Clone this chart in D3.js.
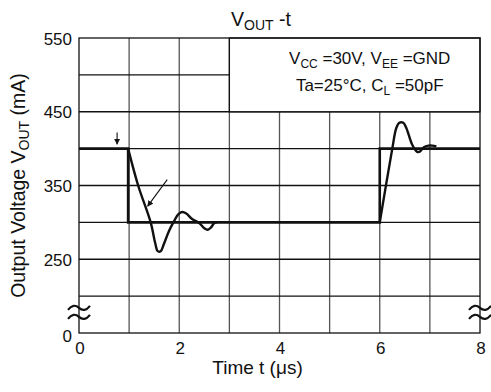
<!DOCTYPE html>
<html>
<head>
<meta charset="utf-8">
<script src="https://cdn.jsdelivr.net/npm/d3@7"></script>
<style>
  body { margin: 0; background: #fff; }
  text { font-family: "Liberation Sans", Arial, sans-serif; fill: #111; }
</style>
</head>
<body>
<div id="canvas"></div>
<script>
const canvas = d3.select("#canvas")

// input step (time in us, value in mA scale)
const stepT = [0, 0.98, 0.98, 6, 6, 8]
const stepV = [400, 400, 300, 300, 400, 400]

// output response, falling edge
const fallT = [0.98, 1.18, 1.43, 1.52, 1.57, 1.63, 1.69, 1.8, 1.9, 1.98, 2.06, 2.14, 2.25, 2.4, 2.5, 2.57, 2.63, 2.7, 2.75]
const fallV = [400, 350, 300, 272, 261, 261, 270, 289, 302, 311, 314, 312, 305, 299, 292, 290, 293, 299, 300]

// output response, rising edge
const riseT = [6.0, 6.25, 6.33, 6.39, 6.47, 6.53, 6.65, 6.74, 6.8, 6.88, 6.97, 7.05, 7.13]
const riseV = [300, 400, 428, 435, 435, 428, 405, 396, 396, 402, 404, 404, 403]

const xTicks = [0, 2, 4, 6, 8]
const yTicks = [550, 450, 350, 250]
const xGrid = [1, 2, 3, 4, 5, 6, 7]
const yGrid = [500, 450, 400, 350, 300, 250, 200]

// annotation arrows [t1, v1, t2, v2]
const arrowSmall = [0.76, 422, 0.76, 406]
const arrowDiag = [1.76, 358, 1.37, 322]

const width = 491
const height = 392
const margin = { top: 38, left: 79, bottom: 59, right: 11 }
const iwidth = width - margin.left - margin.right
const iheight = height - margin.top - margin.bottom

const svg = canvas.append("svg")
    .attr("width", width)
    .attr("height", height)

svg.append("defs").append("marker")
    .attr("id", "ah")
    .attr("viewBox", "0 0 10 10")
    .attr("refX", 9).attr("refY", 5)
    .attr("markerWidth", 6).attr("markerHeight", 6)
    .attr("markerUnits", "userSpaceOnUse")
    .attr("orient", "auto")
    .append("path")
    .attr("d", "M0,0 L10,5 L0,10 z")
    .style("fill", "#111")

const g = svg.append("g")
    .attr("transform", `translate(${margin.left}, ${margin.top})`)

const x = d3.scaleLinear().domain([0, 8]).range([0, iwidth])
const y = d3.scaleLinear().domain([150, 550]).range([iheight, 0])

// grid
g.selectAll(".vgrid").data(xGrid).enter()
    .append("line")
    .attr("x1", d => x(d)).attr("x2", d => x(d))
    .attr("y1", 0).attr("y2", iheight)
    .style("stroke", "#555").style("stroke-width", 1.3)

g.selectAll(".hgrid").data(yGrid).enter()
    .append("line")
    .attr("x1", 0).attr("x2", iwidth)
    .attr("y1", d => y(d)).attr("y2", d => y(d))
    .style("stroke", "#111").style("stroke-width", 1.3)

// legend box covers top right of grid
g.append("rect")
    .attr("x", x(3)).attr("y", y(550))
    .attr("width", x(8) - x(3)).attr("height", y(450) - y(550))
    .style("fill", "#fff").style("stroke", "#111").style("stroke-width", 1.3)

g.append("rect")
    .attr("width", iwidth).attr("height", iheight)
    .style("fill", "none").style("stroke", "#111").style("stroke-width", 1.3)

// legend text
const leg1 = g.append("text")
    .attr("x", x(5.8)).attr("y", y(515))
    .attr("text-anchor", "middle")
    .style("font-size", "17px")
leg1.append("tspan").text("V")
leg1.append("tspan").text("CC").attr("dy", 4).style("font-size", "12px")
leg1.append("tspan").text(" =30V, V").attr("dy", -4)
leg1.append("tspan").text("EE").attr("dy", 4).style("font-size", "12px")
leg1.append("tspan").text(" =GND").attr("dy", -4)

const leg2 = g.append("text")
    .attr("x", x(5.8)).attr("y", y(478))
    .attr("text-anchor", "middle")
    .style("font-size", "17px")
leg2.append("tspan").text("Ta=25°C, C")
leg2.append("tspan").text("L").attr("dy", 4).style("font-size", "12px")
leg2.append("tspan").text(" =50pF").attr("dy", -4)

// curves
const stepData = stepT.map((t, i) => [t, stepV[i]])
const fallData = fallT.map((t, i) => [t, fallV[i]])
const riseData = riseT.map((t, i) => [t, riseV[i]])

g.append("path")
    .datum(stepData)
    .attr("d", d3.line().x(d => x(d[0])).y(d => y(d[1])))
    .style("fill", "none").style("stroke", "#111").style("stroke-width", 2.6)

const smooth = d3.line().x(d => x(d[0])).y(d => y(d[1])).curve(d3.curveCatmullRom.alpha(0.5))

g.append("path").datum(fallData).attr("d", smooth)
    .style("fill", "none").style("stroke", "#111").style("stroke-width", 2.4)
g.append("path").datum(riseData).attr("d", smooth)
    .style("fill", "none").style("stroke", "#111").style("stroke-width", 2.4)

// arrows
;[arrowSmall, arrowDiag].forEach(a => {
    g.append("line")
        .attr("x1", x(a[0])).attr("y1", y(a[1]))
        .attr("x2", x(a[2])).attr("y2", y(a[3]))
        .style("stroke", "#111").style("stroke-width", 1.1)
        .attr("marker-end", "url(#ah)")
})

// axis break marks
function tilde(cx, cy) {
    const w = 22
    const x0 = cx - w / 2
    return `M${x0},${cy + 2} Q${x0 + w / 4},${cy - 5} ${x0 + w / 2},${cy} Q${x0 + 3 * w / 4},${cy + 5} ${x0 + w},${cy - 2}`
}
;[0, 8].forEach(t => {
    ;[-4.5, 4.5].forEach(off => {
        g.append("path")
            .attr("d", tilde(x(t), y(178) + off))
            .style("fill", "none").style("stroke", "#111").style("stroke-width", 2.2)
    })
})

// tick labels
g.selectAll(".xt").data(xTicks).enter()
    .append("text")
    .attr("x", d => x(d) + 1).attr("y", iheight + 21)
    .attr("text-anchor", "middle")
    .style("font-size", "17px")
    .text(d => d)

g.selectAll(".yt").data(yTicks).enter()
    .append("text")
    .attr("x", -7).attr("y", d => y(d) + 6.5)
    .attr("text-anchor", "end")
    .style("font-size", "17px")
    .text(d => d)

g.append("text")
    .attr("x", -7).attr("y", iheight + 9)
    .attr("text-anchor", "end")
    .style("font-size", "17px")
    .text("0")

// axis titles
g.append("text")
    .attr("x", iwidth / 2 - 22).attr("y", iheight + 41)
    .attr("text-anchor", "middle")
    .style("font-size", "19px")
    .text("Time t (μs)")

const yl = svg.append("text")
    .attr("transform", `translate(25, ${margin.top + iheight / 2}) rotate(-90)`)
    .attr("text-anchor", "middle")
    .style("font-size", "19.5px")
yl.append("tspan").text("Output Voltage V")
yl.append("tspan").text("OUT").attr("dy", 4).style("font-size", "14px")
yl.append("tspan").text(" (mA)").attr("dy", -4)

const title = svg.append("text")
    .attr("x", 231).attr("y", 26)
    .style("font-size", "19.5px")
title.append("tspan").text("V")
title.append("tspan").text("OUT").attr("dy", 4).style("font-size", "14px")
title.append("tspan").text(" -t").attr("dy", -4)
</script>
</body>
</html>
